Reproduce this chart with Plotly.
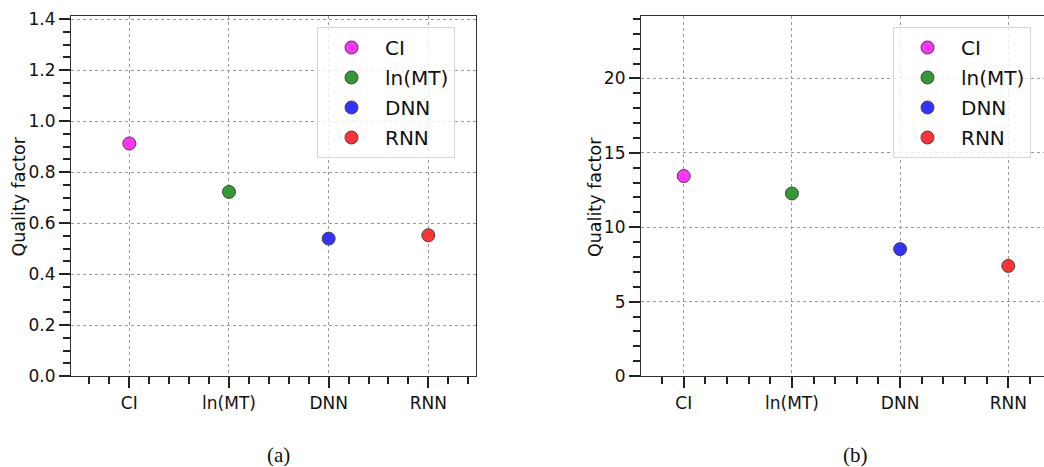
import plotly.graph_objects as go

# Methods compared and their quality factors for the two cases
methods = ["CI", "ln(MT)", "DNN", "RNN"]
method_labels = ["CI", "ln(MT)", "DNN", "RNN"]
quality_a = [0.912, 0.722, 0.539, 0.552]
quality_b = [13.44, 12.27, 8.53, 7.40]
colors = ["#ff33ff", "#339933", "#3333ff", "#ff3333"]
positions = [0, 1, 2, 3]
y_title = "Quality factor"
panel_tags = ["(a)", "(b)"]

FONT = "DejaVu Sans"
SPINE = "#333333"

fig = go.Figure()

for i, name in enumerate(method_labels):
    marker = dict(size=13, color=colors[i], line=dict(color="#444444", width=1))
    fig.add_trace(go.Scatter(
        x=[positions[i]], y=[quality_a[i]], mode="markers", name=name,
        marker=marker, xaxis="x", yaxis="y", legend="legend",
        legendgroup=f"a{i}",
    ))
    fig.add_trace(go.Scatter(
        x=[positions[i]], y=[quality_b[i]], mode="markers", name=name,
        marker=marker, xaxis="x2", yaxis="y2", legend="legend2",
        legendgroup=f"b{i}",
    ))

W, H = 1044, 467


def px_x(p):
    return p / W


def px_y(p):
    return 1 - p / H


common_x = dict(
    tickmode="array", tickvals=positions, ticktext=methods,
    ticks="outside", ticklen=11, tickwidth=1.5, tickcolor="#222222",
    showgrid=True, gridcolor="#999999", griddash="dot", gridwidth=1,
    showline=True, linecolor=SPINE, linewidth=1.25,
    zeroline=False, automargin=False,
    tickfont=dict(family=FONT, size=17, color="#111111"),
    minor=dict(tickmode="linear", tick0=0, dtick=0.2, ticks="outside",
               ticklen=7, tickwidth=1.5, tickcolor="#222222", showgrid=False),
)
common_y = dict(
    ticks="outside", ticklen=11, tickwidth=1.5, tickcolor="#222222",
    showgrid=True, gridcolor="#999999", griddash="dot", gridwidth=1,
    showline=True, linecolor=SPINE, linewidth=1.25,
    zeroline=False, automargin=False,
    tickfont=dict(family=FONT, size=17, color="#111111"),
)

legend_common = dict(
    bgcolor="rgba(255,255,255,0.8)", bordercolor="#d6d6d6", borderwidth=1,
    font=dict(family=FONT, size=20, color="#111111"),
    xanchor="left", yanchor="top", tracegroupgap=1, itemwidth=57,
)

annotations = []
# rotated y-axis titles, one per panel
for xc in (18.5, 595):
    annotations.append(dict(
        text=y_title, x=px_x(xc), y=px_y(197), xref="paper", yref="paper",
        xanchor="center", yanchor="middle", textangle=-90, showarrow=False,
        font=dict(family=FONT, size=17.5, color="#111111"),
    ))
# panel tags under each subplot
for tag, xc in zip(panel_tags, (278, 855)):
    annotations.append(dict(
        text=tag, x=px_x(xc), y=px_y(455), xref="paper", yref="paper",
        xanchor="center", yanchor="middle", showarrow=False,
        font=dict(family="Liberation Serif", size=21, color="#111111"),
    ))

fig.update_layout(
    width=W, height=H,
    margin=dict(l=0, r=0, t=0, b=0, autoexpand=False),
    paper_bgcolor="white", plot_bgcolor="white",
    showlegend=True,
    xaxis=dict(domain=[px_x(71), px_x(476)], range=[-0.585, 3.478],
               anchor="y", mirror=True, **common_x),
    yaxis=dict(domain=[px_y(376), px_y(16)], range=[0, 1.412], dtick=0.2,
               tickformat=".1f", anchor="x", mirror=True,
               minor=dict(dtick=0.05, ticks="outside", ticklen=7, tickwidth=1.5,
                          tickcolor="#222222", showgrid=False),
               **common_y),
    xaxis2=dict(domain=[px_x(641), 1.0], range=[-0.395, 3.33],
                anchor="y2", mirror=True, **common_x),
    yaxis2=dict(domain=[px_y(376), px_y(16)], range=[0, 24.2], dtick=5,
                anchor="x2", mirror=False,
                minor=dict(dtick=1, ticks="outside", ticklen=7, tickwidth=1.5,
                           tickcolor="#222222", showgrid=False),
                **common_y),
    legend=dict(x=px_x(317), y=px_y(27), **legend_common),
    legend2=dict(x=px_x(893), y=px_y(27), **legend_common),
    annotations=annotations,
)

fig.write_html("out.html")
